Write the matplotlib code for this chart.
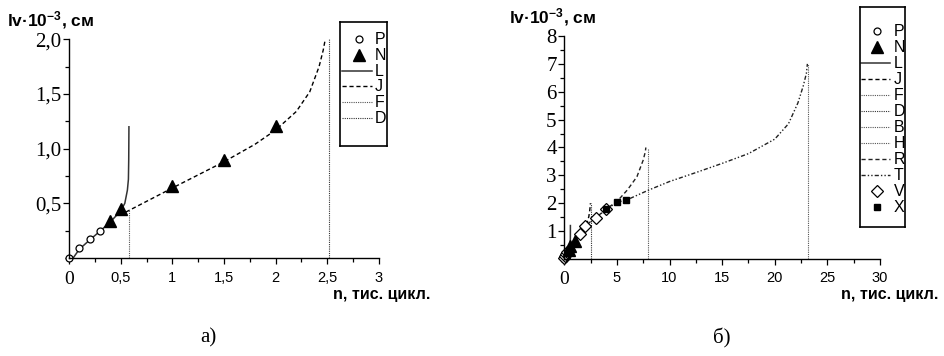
import numpy as np
import matplotlib
matplotlib.use("Agg")
import matplotlib.pyplot as plt
from matplotlib.ticker import MultipleLocator, FixedLocator

plt.rcParams["font.family"] = ["Liberation Sans", "DejaVu Sans"]
plt.rcParams["mathtext.fontset"] = "custom"
plt.rcParams["mathtext.rm"] = "Liberation Sans:bold"
plt.rcParams["mathtext.it"] = "Liberation Sans:bold"

# Data (n in thousand cycles, lv*10^-3 in cm).
P_n = [0.0, 0.1, 0.2, 0.3]
P_l = [0.0, 0.09, 0.17, 0.25]
N_n = [0.4, 0.5, 1.0, 1.5, 2.0]
N_l = [0.34, 0.45, 0.66, 0.90, 1.21]
Nb_n = [0.4, 0.5, 1.0]
Nb_l = [0.34, 0.45, 0.66]
L_n = [0.04, 0.1, 0.2, 0.3, 0.4, 0.5, 0.54, 0.565, 0.575, 0.578, 0.58]
L_l = [0.0, 0.08, 0.165, 0.245, 0.33, 0.43, 0.5, 0.62, 0.72, 0.9, 1.2]
J_n = [0.55, 1.0, 1.5, 1.8, 2.0, 2.2, 2.33, 2.42, 2.46, 2.48]
J_l = [0.42, 0.64, 0.88, 1.04, 1.17, 1.34, 1.52, 1.75, 1.9, 2.0]
F_n = [0.58, 0.58]
F_l = [0.0, 0.45]
D_n = [2.52, 2.52]
D_l = [0.0, 2.0]
B_n = [7.95, 7.95]
B_l = [0.0, 3.95]
H_n = [23.15, 23.15]
H_l = [0.0, 7.0]
R_n = [0, 1, 2, 3, 4, 5, 6, 6.9, 7.5, 7.7, 7.75]
R_l = [0, 0.65, 1.2, 1.48, 1.8, 2.06, 2.48, 2.95, 3.55, 3.85, 4.0]
T_n = [0, 1, 2, 3, 4, 5, 6, 8, 10, 12.5, 15, 17.5, 20, 21.3, 22.2, 22.7, 23.0, 23.1]
T_l = [0, 0.62, 1.18, 1.47, 1.79, 2.03, 2.13, 2.47, 2.78, 3.1, 3.43, 3.78, 4.3, 4.85, 5.6, 6.2, 6.65, 7.0]
V_n = [0.0, 0.1, 0.2, 0.3, 1.5, 2.0, 3.0, 4.0]
V_l = [0.02, 0.09, 0.17, 0.25, 0.9, 1.18, 1.46, 1.79]
X_n = [4.0, 5.0, 5.9]
X_l = [1.8, 2.03, 2.1]

# Styles for each series.
styles = {
  "P": dict(ls="none", marker="o", ms=5, mfc="white", mec="black", mew=0.9),
  "N": dict(ls="none", marker="^", ms=8, color="black"),
  "L": dict(ls="-", lw=1.1, color="#333333"),
  "J": dict(ls=(0, (3, 2)), lw=1.0, color="black"),
  "F": dict(ls=(0, (1, 1)), lw=0.8, color="#555555"),
  "D": dict(ls=(0, (1, 1)), lw=0.8, color="#333333"),
  "B": dict(ls=(0, (1, 1)), lw=0.8, color="#555555"),
  "H": dict(ls=(0, (1, 1)), lw=0.8, color="#555555"),
  "R": dict(ls=(0, (3, 2)), lw=1.0, color="#222222"),
  "T": dict(ls=(0, (3, 1.5, 1, 1.5, 1, 1.5)), lw=1.0, color="#222222"),
  "V": dict(ls="none", marker="D", ms=6, mfc="white", mec="black", mew=0.9),
  "X": dict(ls="none", marker="s", ms=5, color="black"),
}

W, H = 945, 356
fig = plt.figure(figsize=(W / 100, H / 100), dpi=100)


def pxAxes(x0, y0, x1, y1):
  """Add axes from pixel box (left, top, right, bottom)."""
  return fig.add_axes([x0 / W, 1 - y1 / H, (x1 - x0) / W, (y1 - y0) / H])


def styleAxes(ax, xmax, xmaj, xmin, ymax, ymaj, ymin, xlabels, ylabels):
  ax.set_xlim(0, xmax)
  ax.set_ylim(0, ymax)
  for s in ["top", "right"]:
    ax.spines[s].set_visible(False)
  for s in ["left", "bottom"]:
    ax.spines[s].set_linewidth(1.0)
  ax.xaxis.set_major_locator(FixedLocator(xmaj))
  ax.xaxis.set_minor_locator(MultipleLocator(xmin))
  ax.yaxis.set_major_locator(FixedLocator(ymaj))
  ax.yaxis.set_minor_locator(MultipleLocator(ymin))
  ax.set_xticklabels(xlabels)
  ax.set_yticklabels(ylabels)
  ax.tick_params(axis="both", which="major", length=4, width=0.9, direction="out")
  ax.tick_params(axis="both", which="minor", length=3, width=0.9, direction="out")
  ax.tick_params(axis="x", pad=5, labelsize=10.5)
  ax.tick_params(axis="y", pad=1.5)
  for t in ax.get_yticklabels():
    t.set_fontfamily("Liberation Serif")
    t.set_fontsize(15)
  first = ax.get_xticklabels()[0]
  first.set_fontfamily("Liberation Serif")
  first.set_fontsize(14)
  ax.patch.set_alpha(0)


def drawLegend(box, names, xMarker, xLine, xText, yFirst, dy):
  lax = pxAxes(*box)
  w, h = box[2] - box[0], box[3] - box[1]
  lax.set_xlim(0, w)
  lax.set_ylim(h, 0)
  lax.set_xticks([])
  lax.set_yticks([])
  for s in lax.spines.values():
    s.set_linewidth(1.2)
  for i, name in enumerate(names):
    y = yFirst + i * dy
    st = styles[name]
    if st.get("marker"):
      lax.plot([xMarker], [y], **st)
    else:
      lax.plot(xLine, [y, y], **st)
    lax.text(xText, y + 0.5, name, va="center", ha="left", fontsize=11.5)


def plotSeries(ax, pairs):
  for name, xs, ys in pairs:
    ax.plot(xs, ys, clip_on=False, **styles[name])


# ---- Panel a ----
axA = pxAxes(69, 39.3, 379, 258)
plotSeries(axA, [
  ("L", L_n, L_l), ("J", J_n, J_l), ("F", F_n, F_l), ("D", D_n, D_l),
  ("P", P_n, P_l), ("N", N_n, N_l),
])
styleAxes(
  axA, 3, [0, 0.5, 1, 1.5, 2, 2.5, 3], 0.25, 2.0, [0.5, 1.0, 1.5, 2.0], 0.25,
  ["0", "0,5", "1", "1,5", "2", "2,5", "3"], ["0,5", "1,0", "1,5", "2,0"],
)
fig.text(7 / W, 1 - 20 / H, r"lv·10$^{-3}$, см", fontsize=12.5, fontweight="bold", va="center", ha="left")
fig.text(333 / W, 1 - 295 / H, "n, тис. цикл.", fontsize=11.5, fontweight="bold", va="center", ha="left")
fig.text(208 / W, 1 - 338 / H, "а)", fontsize=15, family="Liberation Serif", va="center", ha="center")
drawLegend((340, 22, 387, 146), ["P", "N", "L", "J", "F", "D"], 19, [2, 32], 35, 17, 15.8)

# ---- Panel b ----
axB = pxAxes(564.3, 36, 880, 259)
plotSeries(axB, [
  ("L", L_n, L_l), ("J", J_n, J_l), ("F", F_n, F_l), ("D", D_n, D_l),
  ("B", B_n, B_l), ("H", H_n, H_l), ("R", R_n, R_l), ("T", T_n, T_l),
  ("P", P_n, P_l), ("V", V_n, V_l), ("N", Nb_n, Nb_l), ("X", X_n, X_l),
])
styleAxes(
  axB, 30, [0, 5, 10, 15, 20, 25, 30], 2.5, 8, [1, 2, 3, 4, 5, 6, 7, 8], 0.5,
  ["0", "5", "10", "15", "20", "25", "30"], ["1", "2", "3", "4", "5", "6", "7", "8"],
)
fig.text(509 / W, 1 - 17 / H, r"lv·10$^{-3}$, см", fontsize=12.5, fontweight="bold", va="center", ha="left")
fig.text(841 / W, 1 - 295 / H, "n, тис. цикл.", fontsize=11.5, fontweight="bold", va="center", ha="left")
fig.text(722 / W, 1 - 338 / H, "б)", fontsize=15, family="Liberation Serif", va="center", ha="center")
drawLegend(
  (860, 7, 905, 227), ["P", "N", "L", "J", "F", "D", "B", "H", "R", "T", "V", "X"],
  17, [1, 30], 34, 24, 16.0,
)

fig.savefig("out.png", dpi=100)
